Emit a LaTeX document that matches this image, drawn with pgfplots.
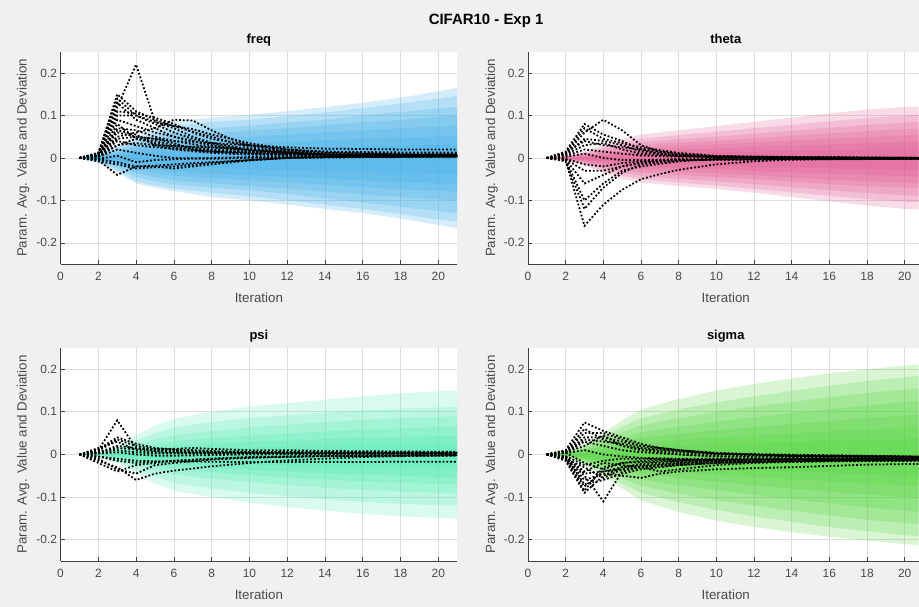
\documentclass[border=0pt]{standalone}
\usepackage{fontspec}
\setmainfont{Liberation Sans}
\setsansfont{Liberation Sans}
\usepackage{xcolor}
\usepackage{pgfplots}
\usepackage{pgfplotstable}
\pgfplotsset{compat=1.18}
\usepgfplotslibrary{fillbetween}

\definecolor{bgc}{HTML}{F0F0F0}
\definecolor{axc}{HTML}{404040}
\definecolor{txc}{HTML}{4A4A4A}
\definecolor{gridc}{HTML}{DDDDDD}
\definecolor{cF}{HTML}{3AAEE8}
\definecolor{cT}{HTML}{E2588F}
\definecolor{cP}{HTML}{4DEBB0}
\definecolor{cS}{HTML}{4CD436}

\newcommand\tickfont{\fontsize{12}{14}\selectfont}
\newcommand\labfont{\fontsize{13.4}{15}\selectfont}
\newcommand\titfont{\fontsize{13}{15}\selectfont\bfseries}

% band edges (upper u_k / lower l_k) per run group
\pgfplotstableread{
x  u1    l1     u2    l2     u3    l3     u4    l4     u5    l5     u6    l6     u7    l7
1  0     0      0     0      0     0      0     0      0     0      0     0      0     0
2  0.010 -0.012 0.008 -0.010 0.006 -0.008 0.005 -0.006 0.004 -0.005 0.003 -0.004 0.002 -0.003
3  0.030 -0.035 0.025 -0.030 0.020 -0.025 0.015 -0.020 0.012 -0.015 0.008 -0.010 0.005 -0.007
4  0.050 -0.060 0.042 -0.055 0.035 -0.045 0.028 -0.035 0.022 -0.028 0.015 -0.020 0.009 -0.012
5  0.072 -0.070 0.060 -0.065 0.050 -0.055 0.040 -0.045 0.030 -0.035 0.020 -0.026 0.012 -0.016
6  0.087 -0.078 0.075 -0.072 0.060 -0.062 0.050 -0.052 0.038 -0.042 0.025 -0.031 0.015 -0.019
8  0.095 -0.092 0.085 -0.082 0.070 -0.070 0.058 -0.060 0.045 -0.048 0.030 -0.037 0.018 -0.023
10 0.102 -0.100 0.090 -0.090 0.076 -0.076 0.064 -0.066 0.050 -0.053 0.034 -0.041 0.020 -0.026
12 0.110 -0.110 0.098 -0.100 0.083 -0.085 0.070 -0.072 0.055 -0.058 0.038 -0.045 0.023 -0.028
14 0.120 -0.120 0.107 -0.110 0.090 -0.095 0.077 -0.079 0.060 -0.063 0.042 -0.049 0.025 -0.031
16 0.130 -0.130 0.117 -0.120 0.100 -0.105 0.084 -0.086 0.065 -0.069 0.045 -0.053 0.027 -0.033
18 0.142 -0.143 0.128 -0.132 0.108 -0.115 0.090 -0.092 0.070 -0.074 0.048 -0.057 0.029 -0.035
20 0.157 -0.158 0.140 -0.145 0.117 -0.125 0.097 -0.098 0.074 -0.078 0.050 -0.060 0.031 -0.037
21 0.165 -0.165 0.147 -0.150 0.120 -0.130 0.100 -0.100 0.076 -0.080 0.052 -0.062 0.032 -0.038
}\tfreq

\pgfplotstableread{
x  u1    l1     u2    l2     u3    l3     u4    l4     u5    l5     u6    l6     u7    l7
1  0     0      0     0      0     0      0     0      0     0      0     0      0     0
2  0.005 -0.006 0.004 -0.005 0.003 -0.004 0.003 -0.003 0.002 -0.003 0.002 -0.002 0.001 -0.002
3  0.015 -0.018 0.012 -0.015 0.010 -0.012 0.008 -0.010 0.006 -0.008 0.004 -0.006 0.003 -0.004
4  0.030 -0.035 0.025 -0.030 0.020 -0.025 0.016 -0.020 0.012 -0.016 0.008 -0.011 0.005 -0.007
5  0.045 -0.050 0.037 -0.042 0.030 -0.035 0.024 -0.028 0.018 -0.022 0.012 -0.016 0.007 -0.010
6  0.055 -0.058 0.045 -0.050 0.037 -0.042 0.030 -0.034 0.023 -0.027 0.016 -0.020 0.009 -0.013
8  0.065 -0.066 0.054 -0.058 0.044 -0.049 0.036 -0.040 0.028 -0.032 0.020 -0.024 0.011 -0.016
10 0.075 -0.073 0.062 -0.065 0.050 -0.055 0.041 -0.045 0.032 -0.036 0.023 -0.027 0.013 -0.018
12 0.085 -0.082 0.070 -0.073 0.057 -0.062 0.046 -0.050 0.036 -0.041 0.026 -0.031 0.015 -0.021
14 0.095 -0.092 0.078 -0.081 0.064 -0.069 0.052 -0.056 0.041 -0.046 0.029 -0.034 0.017 -0.023
16 0.105 -0.102 0.086 -0.089 0.071 -0.076 0.058 -0.062 0.045 -0.051 0.032 -0.037 0.019 -0.025
18 0.114 -0.112 0.094 -0.097 0.078 -0.083 0.063 -0.067 0.049 -0.055 0.035 -0.040 0.021 -0.027
20 0.120 -0.120 0.100 -0.103 0.083 -0.088 0.068 -0.070 0.053 -0.058 0.038 -0.043 0.023 -0.029
21 0.120 -0.122 0.102 -0.105 0.085 -0.090 0.070 -0.072 0.055 -0.060 0.040 -0.045 0.024 -0.030
}\ttheta

\pgfplotstableread{
x  u1    l1     u2    l2     u3    l3     u4    l4     u5    l5     u6    l6     u7    l7
1  0     0      0     0      0     0      0     0      0     0      0     0      0     0
2  0.005 -0.005 0.004 -0.004 0.003 -0.003 0.002 -0.003 0.002 -0.002 0.001 -0.002 0.001 -0.001
3  0.020 -0.020 0.015 -0.016 0.011 -0.012 0.008 -0.009 0.005 -0.007 0.003 -0.005 0.002 -0.003
4  0.045 -0.045 0.033 -0.035 0.024 -0.026 0.017 -0.019 0.011 -0.014 0.006 -0.009 0.003 -0.005
5  0.068 -0.068 0.050 -0.052 0.036 -0.038 0.025 -0.028 0.016 -0.020 0.009 -0.013 0.004 -0.007
6  0.083 -0.085 0.063 -0.066 0.045 -0.047 0.031 -0.035 0.020 -0.025 0.011 -0.016 0.005 -0.009
8  0.100 -0.100 0.076 -0.080 0.055 -0.057 0.038 -0.042 0.025 -0.031 0.014 -0.020 0.007 -0.011
10 0.112 -0.113 0.085 -0.090 0.063 -0.065 0.044 -0.048 0.029 -0.036 0.016 -0.023 0.008 -0.013
12 0.120 -0.123 0.092 -0.098 0.070 -0.072 0.049 -0.054 0.033 -0.040 0.018 -0.026 0.009 -0.014
14 0.128 -0.132 0.098 -0.105 0.076 -0.078 0.054 -0.059 0.036 -0.044 0.020 -0.029 0.010 -0.015
16 0.136 -0.139 0.103 -0.111 0.081 -0.083 0.058 -0.063 0.039 -0.047 0.022 -0.031 0.011 -0.016
18 0.143 -0.145 0.107 -0.116 0.085 -0.087 0.061 -0.066 0.041 -0.050 0.023 -0.033 0.011 -0.017
20 0.148 -0.149 0.110 -0.119 0.088 -0.090 0.064 -0.069 0.043 -0.053 0.024 -0.034 0.012 -0.018
21 0.150 -0.150 0.111 -0.120 0.090 -0.091 0.065 -0.070 0.044 -0.054 0.025 -0.035 0.012 -0.018
}\tpsi

\pgfplotstableread{
x  u1    l1     u2    l2     u3    l3     u4    l4     u5    l5     u6    l6     u7    l7
1  0     0      0     0      0     0      0     0      0     0      0     0      0     0
2  0.006 -0.006 0.005 -0.005 0.004 -0.004 0.003 -0.004 0.003 -0.003 0.002 -0.003 0.001 -0.002
3  0.025 -0.025 0.020 -0.022 0.017 -0.018 0.013 -0.015 0.010 -0.012 0.007 -0.009 0.004 -0.007
4  0.050 -0.050 0.042 -0.044 0.035 -0.037 0.027 -0.030 0.020 -0.024 0.014 -0.018 0.008 -0.013
5  0.080 -0.080 0.065 -0.068 0.052 -0.056 0.040 -0.045 0.030 -0.035 0.021 -0.026 0.012 -0.018
6  0.105 -0.108 0.085 -0.090 0.068 -0.073 0.052 -0.058 0.039 -0.045 0.027 -0.033 0.016 -0.023
8  0.130 -0.135 0.105 -0.112 0.085 -0.092 0.065 -0.072 0.048 -0.055 0.033 -0.040 0.020 -0.028
10 0.150 -0.155 0.122 -0.130 0.100 -0.107 0.077 -0.084 0.056 -0.064 0.039 -0.047 0.023 -0.032
12 0.165 -0.170 0.136 -0.145 0.112 -0.120 0.087 -0.095 0.064 -0.072 0.044 -0.053 0.026 -0.036
14 0.178 -0.182 0.149 -0.158 0.123 -0.132 0.097 -0.105 0.071 -0.080 0.049 -0.058 0.029 -0.040
16 0.190 -0.193 0.161 -0.170 0.134 -0.143 0.106 -0.115 0.078 -0.087 0.054 -0.063 0.032 -0.043
18 0.200 -0.202 0.172 -0.180 0.144 -0.153 0.115 -0.124 0.085 -0.094 0.058 -0.068 0.034 -0.046
20 0.208 -0.210 0.181 -0.189 0.152 -0.161 0.123 -0.132 0.091 -0.100 0.062 -0.072 0.036 -0.049
21 0.212 -0.214 0.185 -0.193 0.156 -0.165 0.127 -0.136 0.094 -0.103 0.064 -0.074 0.037 -0.050
}\tsigma

\newcommand\bands[2]{%
  \pgfplotsinvokeforeach{1,...,7}{%
    \addplot[name path=up##1, draw=none] table[x=x,y=u##1]{#1};
    \addplot[name path=lo##1, draw=none] table[x=x,y=l##1]{#1};
    \addplot[fill=#2, fill opacity=0.21, draw=none] fill between[of=up##1 and lo##1];
  }}

\pgfplotsset{
  panel/.style={
    scale only axis, anchor=south west,
    axis x line*=bottom, axis y line*=left,
    xmin=0, ymin=-0.25, ymax=0.25, height=213pt,
    enlargelimits=false,
    axis background/.style={fill=white},
    xtick={0,2,...,20}, ytick={-0.2,-0.1,0,0.1,0.2},
    yticklabels={-0.2,-0.1,0,0.1,0.2},
    grid=major, major grid style={draw=gridc, line width=0.6pt},
    axis line style={draw=axc, line width=0.8pt},
    tick align=inside, major tick length=4pt,
    every tick/.style={draw=axc, line width=0.6pt},
    tick label style={font=\tickfont, text=txc},
    xticklabel style={yshift=-5pt},
    /pgf/number format/assume math mode=true,
    xlabel={Iteration}, ylabel={Param. Avg. Value and Deviation},
    label style={font=\labfont, text=txc},
    title style={font=\titfont, anchor=base, yshift=2pt},
  },
  leftp/.style={panel, width=398pt, xmax=21,
    title style={at={(axis description cs:0.5,1)}},
    xlabel style={at={(axis description cs:0.5,0)}, anchor=base, yshift=-39pt},
    ylabel style={at={(axis description cs:-0.0855,0.5)}, anchor=base}},
  rightp/.style={panel, width=392pt, xmax=20.74,
    title style={at={(axis description cs:0.5063,1)}},
    xlabel style={at={(axis description cs:0.5063,0)}, anchor=base, yshift=-39pt},
    ylabel style={at={(axis description cs:-0.084,0.5)}, anchor=base}},
  dl/.style={black, line width=1.8pt, dash pattern=on 1.8pt off 2pt},
}

\begin{document}
\pagecolor{bgc}
\begin{tikzpicture}
\path (0,0) rectangle (919pt,609pt);
\node[anchor=base, font=\fontsize{15}{17}\selectfont\bfseries] at (485pt,584pt) {CIFAR10 - Exp 1};

% ---------------- freq
\begin{axis}[leftp, at={(58pt,344pt)}, title={freq}]
\addplot[dl] coordinates {(1,0)(2,0.005)(3,0.06)(4,0.05)(5,0.045)(6,0.04)(8,0.035)(10,0.03)(12,0.025)(14,0.022)(16,0.021)(18,0.02)(21,0.02)};
\addplot[dl] coordinates {(1,0)(2,0.004)(3,0.03)(4,0.035)(5,0.03)(6,0.028)(8,0.025)(10,0.02)(12,0.017)(14,0.015)(16,0.014)(18,0.013)(21,0.013)};
\bands{\tfreq}{cF}
\addplot[dl] coordinates {(1,0)(2,0.01)(3,0.12)(4,0.22)(5,0.085)(6,0.07)(7,0.05)(8,0.035)(10,0.02)(12,0.012)(14,0.008)(16,0.006)(18,0.005)(21,0.005)};
\addplot[dl] coordinates {(1,0)(2,0.01)(3,0.15)(4,0.11)(5,0.09)(6,0.075)(7,0.062)(8,0.05)(10,0.025)(12,0.012)(14,0.008)(16,0.007)(18,0.006)(21,0.006)};
\addplot[dl] coordinates {(1,0)(2,0.012)(3,0.14)(4,0.1)(5,0.085)(6,0.075)(7,0.068)(8,0.055)(10,0.035)(12,0.02)(14,0.012)(16,0.01)(18,0.008)(21,0.008)};
\addplot[dl] coordinates {(1,0)(2,0.008)(3,0.05)(4,0.06)(5,0.07)(6,0.09)(7,0.088)(8,0.065)(9,0.045)(10,0.03)(12,0.015)(14,0.01)(16,0.008)(18,0.007)(21,0.007)};
\addplot[dl] coordinates {(1,0)(2,0.01)(3,0.1)(4,0.1)(5,0.08)(6,0.06)(7,0.045)(8,0.035)(10,0.02)(12,0.012)(14,0.009)(16,0.007)(18,0.006)(21,0.006)};
\addplot[dl] coordinates {(1,0)(2,0.01)(3,0.11)(4,0.105)(5,0.095)(6,0.08)(7,0.06)(8,0.045)(10,0.03)(12,0.02)(14,0.015)(16,0.012)(18,0.01)(21,0.01)};
\addplot[dl] coordinates {(1,0)(2,0.012)(3,0.13)(4,0.09)(5,0.07)(6,0.05)(7,0.04)(8,0.03)(10,0.015)(14,0.008)(21,0.006)};
\addplot[dl] coordinates {(1,0)(2,0.01)(3,0.09)(4,0.075)(5,0.06)(6,0.05)(8,0.03)(10,0.018)(14,0.008)(21,0.005)};
\addplot[dl] coordinates {(1,0)(2,0.008)(3,0.07)(4,0.065)(5,0.05)(6,0.04)(8,0.025)(10,0.015)(21,0.005)};
\addplot[dl] coordinates {(1,0)(2,0.006)(3,0.045)(4,0.05)(5,0.045)(6,0.035)(7,0.02)(8,0.015)(21,0.005)};
\addplot[dl] coordinates {(1,0)(2,0.006)(3,0.08)(4,0.045)(5,0.04)(6,0.03)(7,0.025)(8,0.02)(10,0.012)(12,0.008)(14,0.006)(21,0.005)};
\addplot[dl] coordinates {(1,0)(2,0.005)(3,0.065)(4,0.055)(5,0.03)(6,0.02)(8,0.012)(10,0.008)(14,0.005)(21,0.004)};
\addplot[dl] coordinates {(1,0)(2,0.004)(3,0.04)(4,0.03)(5,0.025)(6,0.022)(8,0.015)(10,0.01)(14,0.006)(21,0.005)};
\addplot[dl] coordinates {(1,0)(2,0.003)(3,0.03)(4,0.045)(5,0.035)(6,0.025)(8,0.018)(10,0.012)(14,0.008)(21,0.006)};
\addplot[dl] coordinates {(1,0)(2,-0.005)(3,-0.04)(4,-0.02)(5,-0.018)(6,-0.015)(7,-0.012)(8,-0.01)(10,-0.005)(12,0)(14,0.002)(21,0.003)};
\addplot[dl] coordinates {(1,0)(2,-0.008)(3,-0.015)(4,-0.025)(5,-0.022)(6,-0.02)(8,-0.012)(10,-0.005)(12,0)(14,0.002)(21,0.004)};
\addplot[dl] coordinates {(1,0)(2,-0.003)(3,-0.01)(4,-0.02)(5,-0.02)(6,-0.025)(7,-0.02)(8,-0.015)(10,-0.006)(12,0)(21,0.004)};
\addplot[dl] coordinates {(1,0)(2,0.002)(3,0.02)(4,0.012)(5,0.005)(6,0)(8,-0.002)(10,0)(14,0.003)(21,0.004)};
\addplot[dl] coordinates {(1,0)(2,-0.002)(3,0.005)(4,-0.01)(5,-0.005)(6,-0.003)(8,0)(10,0.002)(21,0.003)};
\end{axis}

% ---------------- theta
\begin{axis}[rightp, at={(527pt,344pt)}, title={theta}]
\bands{\ttheta}{cT}
\addplot[dl] coordinates {(1,0)(2,0.01)(3,0.06)(4,0.09)(5,0.065)(6,0.03)(7,0.015)(8,0.008)(10,0.003)(14,0)(21,-0.001)};
\addplot[dl] coordinates {(1,0)(2,0.015)(3,0.08)(4,0.055)(5,0.04)(6,0.02)(7,0.01)(8,0.005)(10,0.002)(14,0)(21,-0.001)};
\addplot[dl] coordinates {(1,0)(2,0.012)(3,0.07)(4,0.045)(5,0.035)(6,0.025)(8,0.012)(10,0.005)(14,0.001)(21,0)};
\addplot[dl] coordinates {(1,0)(2,0.01)(3,0.045)(4,0.04)(5,0.03)(6,0.015)(8,0.006)(10,0.002)(21,0)};
\addplot[dl] coordinates {(1,0)(2,0.008)(3,0.03)(4,0.035)(5,0.02)(6,0.01)(8,0.004)(21,0)};
\addplot[dl] coordinates {(1,0)(2,0.012)(3,0.04)(4,0.03)(5,0.025)(6,0.02)(8,0.01)(10,0.004)(21,0)};
\addplot[dl] coordinates {(1,0)(2,-0.005)(3,-0.16)(4,-0.11)(5,-0.075)(6,-0.05)(7,-0.038)(8,-0.028)(10,-0.015)(12,-0.008)(14,-0.004)(16,-0.002)(21,-0.001)};
\addplot[dl] coordinates {(1,0)(2,-0.008)(3,-0.12)(4,-0.07)(5,-0.035)(6,-0.015)(8,-0.006)(10,-0.003)(21,-0.001)};
\addplot[dl] coordinates {(1,0)(2,-0.005)(3,-0.1)(4,-0.06)(5,-0.03)(6,-0.02)(8,-0.008)(10,-0.003)(21,-0.002)};
\addplot[dl] coordinates {(1,0)(2,-0.004)(3,-0.06)(4,-0.04)(5,-0.02)(6,-0.01)(8,-0.005)(21,-0.002)};
\addplot[dl] coordinates {(1,0)(2,-0.003)(3,-0.03)(4,-0.03)(5,-0.02)(6,-0.012)(8,-0.006)(10,-0.003)(21,-0.002)};
\addplot[dl] coordinates {(1,0)(2,0.003)(3,0.01)(4,0)(5,-0.005)(6,-0.005)(8,-0.003)(21,-0.001)};
\addplot[dl] coordinates {(1,0)(2,-0.002)(3,-0.015)(4,-0.02)(5,-0.012)(6,-0.008)(8,-0.004)(21,-0.002)};
\addplot[dl] coordinates {(1,0)(2,0.005)(3,0.02)(4,0.015)(5,0.01)(6,0.006)(8,0.003)(21,0)};
\end{axis}

% ---------------- psi
\begin{axis}[leftp, at={(58pt,46pt)}, height=214pt, title={psi}]
\addplot[dl] coordinates {(1,0)(2,-0.005)(3,-0.01)(4,-0.015)(5,-0.016)(6,-0.016)(8,-0.017)(10,-0.018)(12,-0.018)(14,-0.018)(16,-0.018)(18,-0.017)(21,-0.017)};
\addplot[dl] coordinates {(1,0)(2,0.004)(3,0.015)(4,0.012)(5,0.012)(6,0.013)(7,0.015)(8,0.013)(10,0.01)(12,0.01)(14,0.008)(21,0.006)};
\bands{\tpsi}{cP}
\addplot[dl] coordinates {(1,0)(2,0.01)(3,0.08)(4,0.015)(5,0.008)(6,0.005)(8,0.004)(12,0.003)(21,0.003)};
\addplot[dl] coordinates {(1,0)(2,0.012)(3,0.04)(4,0.025)(5,0.015)(6,0.012)(8,0.008)(10,0.006)(14,0.004)(21,0.004)};
\addplot[dl] coordinates {(1,0)(2,0.015)(3,0.03)(4,0.01)(5,0.005)(6,0.003)(10,0.003)(21,0.002)};
\addplot[dl] coordinates {(1,0)(2,0.008)(3,0.035)(4,0.02)(5,0.012)(6,0.008)(8,0.006)(12,0.005)(21,0.005)};
\addplot[dl] coordinates {(1,0)(2,0.005)(3,0.02)(4,0.015)(5,0.01)(6,0.008)(10,0.005)(21,0.004)};
\addplot[dl] coordinates {(1,0)(2,-0.015)(3,-0.03)(4,-0.06)(5,-0.045)(6,-0.038)(7,-0.033)(8,-0.028)(10,-0.02)(12,-0.014)(14,-0.01)(16,-0.006)(18,-0.004)(21,-0.002)};
\addplot[dl] coordinates {(1,0)(2,-0.02)(3,-0.04)(4,-0.025)(5,-0.02)(6,-0.015)(8,-0.01)(10,-0.006)(14,-0.003)(21,-0.001)};
\addplot[dl] coordinates {(1,0)(2,-0.01)(3,-0.035)(4,-0.045)(5,-0.025)(6,-0.02)(8,-0.012)(10,-0.008)(14,-0.004)(21,-0.002)};
\addplot[dl] coordinates {(1,0)(2,-0.005)(3,-0.015)(4,-0.02)(5,-0.018)(6,-0.015)(8,-0.01)(10,-0.007)(14,-0.004)(21,-0.003)};
\addplot[dl] coordinates {(1,0)(2,0.002)(3,0.005)(4,0)(5,-0.003)(6,-0.003)(10,0)(21,0.002)};
\addplot[dl] coordinates {(1,0)(2,0.003)(3,0.01)(4,0.005)(5,0.002)(8,0.002)(21,0.003)};
\end{axis}

% ---------------- sigma
\begin{axis}[rightp, at={(527pt,46pt)}, height=214pt, title={sigma}]
\bands{\tsigma}{cS}
\addplot[dl] coordinates {(1,0)(2,0.01)(3,0.075)(4,0.055)(5,0.04)(6,0.025)(7,0.015)(8,0.01)(10,0.004)(12,0)(14,-0.003)(16,-0.005)(21,-0.006)};
\addplot[dl] coordinates {(1,0)(2,0.008)(3,0.05)(4,0.05)(5,0.035)(6,0.02)(8,0.01)(10,0.002)(14,-0.003)(21,-0.005)};
\addplot[dl] coordinates {(1,0)(2,0.006)(3,0.04)(4,0.04)(5,0.03)(6,0.02)(8,0.01)(10,0.002)(14,-0.004)(21,-0.006)};
\addplot[dl] coordinates {(1,0)(2,0.005)(3,0.02)(4,0.045)(5,0.02)(6,0.01)(8,0)(10,-0.004)(21,-0.008)};
\addplot[dl] coordinates {(1,0)(2,0.008)(3,0.06)(4,0.035)(5,0.02)(6,0.012)(8,0.005)(10,0)(21,-0.006)};
\addplot[dl] coordinates {(1,0)(2,0.006)(3,0.035)(4,0.03)(5,0.025)(6,0.015)(8,0.008)(10,0.002)(21,-0.005)};
\addplot[dl] coordinates {(1,0)(2,-0.01)(3,-0.05)(4,-0.11)(5,-0.04)(6,-0.03)(7,-0.025)(8,-0.02)(10,-0.015)(14,-0.012)(21,-0.01)};
\addplot[dl] coordinates {(1,0)(2,-0.015)(3,-0.09)(4,-0.05)(5,-0.03)(6,-0.022)(8,-0.016)(10,-0.013)(14,-0.011)(21,-0.01)};
\addplot[dl] coordinates {(1,0)(2,-0.012)(3,-0.085)(4,-0.03)(5,-0.02)(6,-0.018)(8,-0.015)(10,-0.012)(21,-0.01)};
\addplot[dl] coordinates {(1,0)(2,-0.01)(3,-0.075)(4,-0.04)(5,-0.03)(6,-0.025)(8,-0.02)(10,-0.016)(21,-0.012)};
\addplot[dl] coordinates {(1,0)(2,-0.008)(3,-0.06)(4,-0.045)(5,-0.05)(6,-0.055)(7,-0.045)(8,-0.04)(10,-0.035)(12,-0.032)(14,-0.03)(16,-0.027)(18,-0.024)(21,-0.022)};
\addplot[dl] coordinates {(1,0)(2,-0.006)(3,-0.04)(4,-0.02)(5,-0.025)(6,-0.03)(7,-0.04)(8,-0.035)(10,-0.025)(12,-0.02)(14,-0.018)(16,-0.016)(21,-0.015)};
\addplot[dl] coordinates {(1,0)(2,-0.005)(3,-0.045)(4,-0.04)(5,-0.035)(6,-0.03)(8,-0.025)(10,-0.02)(14,-0.016)(21,-0.013)};
\addplot[dl] coordinates {(1,0)(2,-0.005)(3,-0.07)(4,-0.06)(5,-0.045)(6,-0.035)(8,-0.025)(10,-0.02)(14,-0.015)(21,-0.012)};
\addplot[dl] coordinates {(1,0)(2,0.004)(3,-0.02)(4,-0.035)(5,-0.02)(6,-0.015)(8,-0.012)(21,-0.01)};
\addplot[dl] coordinates {(1,0)(2,0.003)(3,0.01)(4,0)(5,-0.005)(6,-0.008)(8,-0.01)(21,-0.01)};
\addplot[dl] coordinates {(1,0)(2,-0.004)(3,-0.025)(4,-0.015)(5,-0.01)(6,-0.01)(8,-0.012)(10,-0.013)(21,-0.012)};
\addplot[dl] coordinates {(1,0)(2,0.004)(3,0.03)(4,0.02)(5,0.01)(6,0.005)(8,0)(10,-0.005)(21,-0.007)};
\addplot[dl] coordinates {(1,0)(2,-0.01)(3,-0.03)(4,-0.055)(5,-0.035)(6,-0.028)(8,-0.022)(10,-0.018)(21,-0.014)};
\end{axis}
\end{tikzpicture}
\end{document}
